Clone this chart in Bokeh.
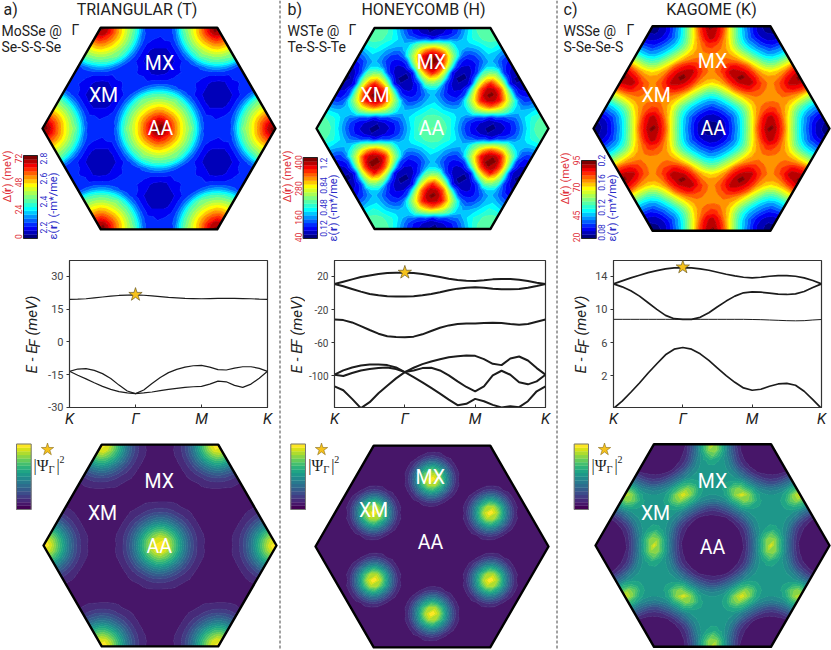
#!/usr/bin/env python3

import numpy as np
from bokeh.core.properties import value
from bokeh.embed import file_html
from bokeh.layouts import column, row
from bokeh.models import FixedTicker, Range1d, Span
from bokeh.palettes import Viridis256
from bokeh.plotting import figure
from bokeh.resources import INLINE

# Maps: values in percent of the colour bar, read off one irreducible wedge of
# the moire cell (AA - XM - MX triangle, 18 steps per lattice vector), row by row.
T_DELTA = [
    100,
    94, 85,
    85, 81, 74, 65,
    74, 69, 63, 54, 44,
    65, 63, 58, 51, 43, 29, 17,
    54, 51, 49, 39, 26, 17, 12, 7,
    44, 43, 39, 31, 21, 16, 12, 8, 6, 5,
    29, 26, 21, 17, 16, 15, 12, 8,
    17, 17, 16, 16, 16, 16, 13,
    12, 12, 15, 16, 16,
    7, 8, 12, 13,
    6, 8,
    5,
]
T_PSI = [
    100,
    93, 80,
    80, 74, 62, 45,
    62, 54, 42, 29, 17,
    45, 42, 34, 25, 16, 9, 5,
    29, 25, 19, 13, 8, 5, 4, 3,
    17, 16, 13, 9, 7, 5, 4, 3, 3, 3,
    9, 8, 7, 5, 4, 3, 3, 3,
    5, 5, 5, 4, 3, 3, 3,
    3, 3, 3, 3, 3,
    3, 3, 3, 3,
    3, 3,
    3,
]
H_DELTA = [
    48,
    46, 45,
    45, 44, 40, 37,
    40, 36, 33, 31, 30,
    37, 33, 27, 24, 24, 33, 48,
    31, 24, 18, 16, 22, 45, 64, 85,
    30, 24, 16, 13, 12, 18, 50, 73, 92, 98,
    33, 22, 12, 8, 9, 20, 53, 80,
    48, 45, 18, 9, 5, 5, 13,
    64, 50, 20, 5, 3,
    86, 74, 53, 13,
    94, 80,
    100,
]
H_PSI = [
    3,
    3, 3,
    3, 3, 3, 3,
    3, 3, 3, 3, 3,
    3, 3, 3, 3, 3, 4, 14,
    3, 3, 3, 3, 3, 12, 34, 62,
    3, 3, 3, 3, 3, 6, 24, 52, 85, 100,
    4, 3, 3, 3, 3, 12, 34, 62,
    14, 12, 6, 3, 3, 4, 14,
    34, 24, 12, 4, 3,
    62, 52, 34, 14,
    85, 62,
    100,
]
K_DELTA = [
    3,
    4, 6,
    6, 8, 12, 19,
    12, 16, 23, 29, 40,
    19, 23, 27, 34, 43, 53, 65,
    29, 34, 42, 51, 59, 68, 73, 74,
    40, 43, 51, 58, 67, 74, 77, 78, 75, 74,
    53, 59, 67, 78, 84, 87, 85, 80,
    65, 68, 74, 84, 90, 92, 93,
    73, 77, 87, 92, 99,
    74, 78, 85, 93,
    75, 80,
    74,
]
K_PSI = [
    2,
    3, 3,
    3, 3, 3, 3,
    3, 3, 3, 3, 9,
    3, 3, 3, 4, 11, 21, 38,
    3, 4, 7, 16, 27, 40, 47, 49,
    9, 11, 16, 25, 34, 44, 50, 51, 50, 50,
    21, 27, 34, 45, 58, 60, 55, 52,
    38, 40, 44, 58, 68, 80, 72,
    47, 50, 60, 80, 92,
    49, 51, 55, 72,
    50, 52,
    50,
]

# Band structures, sampled every 1/8 of a K-Gamma-M-K segment
K_PATH = [i / 8 for i in range(25)]
T_BANDS = [
    [19.4, 19.5, 19.7, 20.1, 20.5, 20.9, 21.2, 21.4, 21.5, 21.3, 21.0, 20.7, 20.3,
     20.1, 19.9, 19.8, 19.7, 19.8, 19.9, 19.9, 19.9, 19.8, 19.7, 19.5, 19.4],
    [-13.5, -12.45, -12.3, -13.05, -14.55, -16.8, -19.8, -22.5, -23.7, -22.05, -19.05,
     -16.35, -14.1, -12.6, -11.55, -10.95, -10.8, -11.55, -12.75, -12.9, -12.0, -11.4,
     -11.4, -12.15, -13.5],
    [-13.5, -15.3, -16.95, -18.75, -20.4, -21.75, -22.8, -23.4, -23.7, -23.4, -22.95,
     -22.35, -21.75, -21.3, -20.85, -20.55, -20.4, -19.35, -18.0, -18.3, -19.95, -20.85,
     -19.35, -16.65, -13.5],
]
H_BANDS = [
    [10.8, 13.6, 16.4, 19.2, 21.2, 22.8, 24.0, 24.4, 24.4, 24.0, 22.8, 21.2, 19.2, 17.2,
     15.6, 14.8, 14.4, 15.2, 16.4, 16.8, 16.8, 16.0, 14.4, 12.4, 10.8],
    [10.8, 8.0, 4.8, 1.6, -1.2, -2.8, -4.0, -4.4, -4.4, -4.0, -2.8, -1.2, 0.8, 3.2, 5.2,
     6.4, 6.8, 6.4, 5.2, 4.4, 4.4, 4.8, 6.4, 8.4, 10.8],
    [-32.0, -32.8, -35.6, -40.0, -44.8, -49.2, -52.4, -53.2, -53.6, -52.8, -50.0, -46.0,
     -42.0, -39.2, -37.6, -36.8, -36.8, -36.4, -36.0, -36.4, -37.6, -38.4, -37.6, -34.8,
     -32.0],
    [-112.8, -117.6, -128.0, -139.2, -132.0, -121.2, -112.0, -103.2, -95.6, -90.4, -86.0,
     -82.8, -80.0, -77.6, -76.4, -75.6, -76.0, -80.0, -85.6, -87.2, -79.2, -76.8, -81.6,
     -90.8, -98.8],
    [-98.8, -93.6, -90.0, -87.6, -86.4, -86.4, -87.2, -90.0, -95.6, -101.6, -108.0, -114.8,
     -121.6, -128.8, -135.6, -134.0, -128.0, -130.8, -135.2, -138.4, -136.8, -138.0,
     -130.8, -118.8, -112.8],
    [-98.8, -100.4, -96.8, -93.6, -92.0, -90.8, -90.0, -92.0, -95.6, -93.6, -90.8, -90.4,
     -93.6, -99.6, -106.8, -113.6, -118.8, -112.8, -99.6, -94.0, -98.8, -108.0, -110.4,
     -106.8, -98.8],
]
K_BANDS = [
    [13.08, 13.44, 13.8, 14.12, 14.44, 14.68, 14.88, 15.0, 15.04, 15.0, 14.88, 14.72, 14.48,
     14.24, 14.04, 13.88, 13.8, 13.88, 14.0, 14.08, 14.08, 14.0, 13.8, 13.48, 13.08],
    [13.08, 12.72, 12.24, 11.6, 10.8, 10.0, 9.28, 8.88, 8.8, 8.8, 9.04, 9.6, 10.32, 11.0,
     11.6, 12.0, 12.12, 12.08, 11.96, 11.84, 11.8, 11.88, 12.16, 12.64, 13.08],
    [8.8, 8.8, 8.8, 8.8, 8.8, 8.8, 8.8, 8.8, 8.8, 8.8, 8.8, 8.8, 8.8, 8.8, 8.8, 8.8, 8.78,
     8.76, 8.72, 8.68, 8.64, 8.62, 8.64, 8.72, 8.78],
    [-1.96, -1.08, 0.0, 1.12, 2.32, 3.44, 4.52, 5.2, 5.4, 5.2, 4.64, 3.84, 2.92, 2.0, 1.2,
     0.52, 0.24, 0.36, 0.72, 1.0, 1.08, 0.84, 0.12, -0.88, -1.96],
]

K_TICKS = [0, 1, 2, 3]
K_LABELS = ["K", "Γ", "M", "K"]
T_TICKS, T_TICK_LABELS = [-30, -15, 0, 15, 30], ["-30", "-15", "0", "15", "30"]
H_TICKS, H_TICK_LABELS = [-100, -60, -20, 20], ["-100", "-60", "-20", "20"]
K_YTICKS, K_YTICK_LABELS = [2, 6, 10, 14], ["2", "6", "10", "14"]

T_DELTA_BAR = ["0", "24", "48", "72"]
T_EPS_BAR = ["2.2", "2.4", "2.6", "2.8"]
H_DELTA_BAR = ["40", "160", "280", "400"]
H_EPS_BAR = ["0.12", "0.48", "0.84", "1.2"]
K_DELTA_BAR = ["20", "45", "70", "95"]
K_EPS_BAR = ["0.08", "0.12", "0.16", "0.2"]

N = 18
COLS = [(0, 278), (281, 274), (558, 273)]
TOP_H, MID_H = 244, 186
FONT = "Roboto"


def jet(n):
    stops = [0, 0.11, 0.35, 0.5, 0.65, 0.89, 1]
    r = np.interp(np.linspace(0, 1, n), stops, [0, 0, 0, 0.5, 1, 1, 0.5])
    g = np.interp(np.linspace(0, 1, n), stops, [0, 0, 1, 1, 1, 0, 0])
    b = np.interp(np.linspace(0, 1, n), stops, [0.5, 1, 1, 0.5, 0, 0, 0])
    return ["#%02x%02x%02x" % (int(a * 255), int(c * 255), int(d * 255)) for a, c, d in zip(r, g, b)]


JET = jet(21)
VIR = [Viridis256[int(round(i * 255 / 17))] for i in range(18)]


def unfold(values):
    wedge = [
        (i, j)
        for j in range(13)
        for i in range(-6, 7)
        if i <= j and 2 * i + j >= 0 and i + 2 * j <= N
    ]
    table = {}
    for (i, j), v in zip(wedge, values):
        a, b = i, j
        for _ in range(3):
            table[(a % N, b % N)] = v
            table[((-a - b) % N, b % N)] = v
            a, b = -a - b, a
    return table


def put(p, x, y, text, size, color="#222222", angle=0, align="left", font=FONT, style="normal"):
    p.text(
        x=[x], y=[y], text=[text], angle=angle,
        text_font=value(font), text_font_size=f"{size}px", text_font_style=style,
        text_color=color, text_align=align, text_baseline="middle",
    )


def sheet(x0, y0, w, h):
    p = figure(
        width=w, height=h, x_range=Range1d(x0, x0 + w), y_range=Range1d(y0 + h, y0),
        toolbar_location=None, output_backend="svg", x_axis_type=None, y_axis_type=None,
        min_border=0, outline_line_color=None,
    )
    p.grid.visible = False
    return p


def hexmap(p, values, cx, cy, r, palette):
    table = unfold(values)
    ii, jj = np.meshgrid(np.arange(-N - 2, N + 3), np.arange(-N - 2, N + 3))
    z = np.vectorize(lambda a, b: table[(a % N, b % N)])(ii, jj).astype(float)
    z[ii ** 2 + ii * jj + jj ** 2 > (1.2 * N) ** 2] = np.nan
    x = cx + (ii + jj / 2) * r / N
    y = cy - jj * np.sqrt(3) / 2 * r / N
    levels = np.linspace(0, 100.01, len(palette) + 1)
    p.contour(x, y, z, levels, fill_color=palette, line_color=palette + [palette[-1]], line_width=1)

    ang = np.radians(np.arange(0, 360, 60))
    hx = list(cx + r * np.cos(ang))
    hy = list(cy + r * np.sin(ang))
    x0, x1, y1, y0 = p.x_range.start, p.x_range.end, p.y_range.start, p.y_range.end
    p.multi_polygons(
        xs=[[[[x0 - 1, x1 + 1, x1 + 1, x0 - 1], hx]]],
        ys=[[[[y0 - 1, y0 - 1, y1 + 1, y1 + 1], hy]]],
        fill_color="white", line_color=None,
    )
    p.patch(hx, hy, fill_color=None, line_color="black", line_width=2.4, line_join="round")


def site_labels(p, mx, xm, aa):
    for text, (x, y) in zip(["MX", "XM", "AA"], [mx, xm, aa]):
        put(p, x, y, text, 19.5, color="white", align="center")


def bar(p, left, right, top, bottom, palette, edge="#333333"):
    ys = np.linspace(bottom, top, len(palette) + 1)
    p.quad(left=left, right=right, top=ys[1:], bottom=ys[:-1], fill_color=palette, line_color=palette, line_width=0.3)
    p.quad(left=[left], right=[right], top=[top], bottom=[bottom], fill_color=None, line_color=edge, line_width=1)


def psi_label(p, x, star_x):
    p.scatter([star_x], [449], marker="star", size=13, fill_color="#f6c21c", line_color="#8a6d1a", line_width=0.6)
    put(p, x, 465, "|Ψ", 16, font="Liberation Serif")
    put(p, x + 15, 469, "Γ", 10.5, font="Liberation Serif")
    put(p, x + 23, 465, "|", 16, font="Liberation Serif")
    put(p, x + 26, 459, "2", 10, font="Liberation Serif")


def bar_title(p, x, y, sym, tail, color):
    size = 11
    up = np.pi / 2
    put(p, x, y, sym + "(", size, color=color, angle=up)
    put(p, x, y - 10.6, "r", size, color=color, angle=up, style="bold")
    put(p, x, y - 15.2, ")", size, color=color, angle=up)
    put(p, x, y - 22, tail, size, color=color, angle=up)


def top_panel(col, letter, title, title_x, lab1, lab2, lab_x, gamma_x, values, hx, labels, barpos, dticks, eticks, ypos):
    x0, w = COLS[col]
    p = sheet(x0, 0, w, TOP_H)
    hexmap(p, values, hx[0], 128, hx[1], JET)
    site_labels(p, *labels)
    put(p, lab_x if col else 3, 9, letter, 16)
    put(p, title_x, 9, title, 16, align="center")
    put(p, lab_x if col else 1, 30, lab1, 14)
    put(p, gamma_x, 29, "Γ", 14)
    put(p, lab_x if col else 1, 46, lab2, 14)
    left, right, top = barpos
    bar(p, left, right, top, 238, JET, edge="#222222")
    red, blue = "#e0303a", "#2b2bc8"
    for t, y in zip(dticks, ypos[0]):
        put(p, left - 5, y, t, 8.5, color=red, angle=np.pi / 2, align="center")
    for t, y in zip(eticks, ypos[1]):
        put(p, right + 5.5, y, t, 8.5, color=blue, angle=np.pi / 2, align="center")
    bar_title(p, left - 16, ypos[2], "Δ", "(meV)", red)
    bar_title(p, right + 16, ypos[3], "ε", "(-m*/me)", blue)
    return p


def band_panel(col, frame, yrange, bands, ticks, tick_labels, star_y, line_width, label_x, gutter, f_dx, tick_size=11):
    x0, w = COLS[col]
    left, right = frame

    # the rotated axis title sits in a narrow sheet of its own, left of the tick labels
    side = sheet(x0, TOP_H, gutter, MID_H)
    up = np.pi / 2
    for text, dx, y in [("E - E", 0, 373), ("F", f_dx, 347), ("(meV)", 0, 335)]:
        put(side, label_x + dx, y, text, 15, angle=up, style="italic")

    p = figure(
        width=w - gutter, height=MID_H, x_range=Range1d(0, 3), y_range=Range1d(*yrange),
        toolbar_location=None, output_backend="svg", min_border=0,
        min_border_left=left - x0 - gutter, min_border_right=x0 + w - right,
        min_border_top=260 - TOP_H, min_border_bottom=22,
        outline_line_color="#333333", outline_line_width=1.2,
    )
    p.grid.visible = False
    for k, band in enumerate(bands):
        lw = line_width[k] if isinstance(line_width, list) else line_width
        p.line(K_PATH, band, line_color="#1c1c1c", line_width=lw)
    p.scatter([1], [star_y], marker="star", size=14, fill_color="#f6c21c", line_color="#6b5a20", line_width=0.7)

    p.xaxis.ticker = FixedTicker(ticks=K_TICKS)
    p.xaxis.major_label_overrides = dict(zip(K_TICKS, K_LABELS))
    p.xaxis.major_label_text_font = FONT
    p.xaxis.major_label_text_font_style = "italic"
    p.xaxis.major_label_text_font_size = "15px"
    p.xaxis.major_label_text_color = "#222222"
    p.xaxis.major_label_standoff = 2
    p.xaxis.major_tick_in = 3
    p.xaxis.major_tick_out = 0
    p.yaxis.ticker = FixedTicker(ticks=ticks)
    p.yaxis.major_label_overrides = dict(zip(ticks, tick_labels))
    p.yaxis.major_label_text_font = FONT
    p.yaxis.major_label_text_font_size = f"{tick_size}px"
    p.yaxis.major_label_text_color = "#444444"
    p.yaxis.major_label_standoff = 3
    p.yaxis.major_tick_in = 0
    p.yaxis.major_tick_out = 3
    for ax in (p.xaxis, p.yaxis):
        ax.minor_tick_line_color = None
        ax.axis_line_color = "#333333"
        ax.major_tick_line_color = "#333333"
    return row(row(side), row(p), spacing=0)


def bottom_panel(col, values, hx, cy, labels, barpos, text_x, star_x):
    x0, w = COLS[col]
    p = sheet(x0, 430, w, 220)
    hexmap(p, values, hx[0], cy, hx[1], VIR[1:])
    site_labels(p, *labels)
    bar(p, barpos[0], barpos[1], 443.5, 509, VIR, edge="#777777")
    psi_label(p, text_x, star_x)
    return p


def separator():
    p = figure(
        width=3, height=650, x_range=Range1d(0, 1), y_range=Range1d(0, 1),
        toolbar_location=None, output_backend="svg", x_axis_type=None, y_axis_type=None,
        min_border=0, outline_line_color=None,
    )
    p.grid.visible = False
    p.add_layout(Span(location=0.5, dimension="height", line_color="#444444", line_width=1, line_dash="3 2"))
    return p


# wrapped one by one so that the column does not line the plot frames up
def stack(top, mid, bottom):
    return column(row(top), row(mid), row(bottom), spacing=0)


col_a = stack(
    top_panel(
        0, "a)", "TRIANGULAR (T)", 136.5, "MoSSe @", "Se-S-S-Se", 1, 71, T_DELTA, (158.5, 116.5),
        ((159, 63), (103, 95), (160, 128)), (23, 37, 155), T_DELTA_BAR, T_EPS_BAR,
        ((236, 209, 182, 158), (227, 201, 178, 158), 202, 239),
    ),
    band_panel(0, (69, 267), (-30.05, 37.2), T_BANDS, T_TICKS, T_TICK_LABELS, 21.6, 1.2, 31, 42, 3),
    bottom_panel(0, T_PSI, (159.5, 116.5), 545, ((158.7, 481), (102, 513), (158.7, 546)), (16, 30.7), 33, 47),
)
col_b = stack(
    top_panel(
        1, "b)", "HONEYCOMB (H)", 423, "WSTe @", "Te-S-S-Te", 287, 348, H_DELTA, (432, 116),
        ((431, 62), (374.7, 95), (431, 128)), (302.7, 317, 157), H_DELTA_BAR, H_EPS_BAR,
        ((237, 217, 188, 162), (228, 207, 185, 163), 202, 241),
    ),
    band_panel(1, (334, 545), (-138.4, 39.2), H_BANDS, H_TICKS, H_TICK_LABELS, 24.8, 2, 296, 24, 0.5, tick_size=10),
    bottom_panel(1, H_PSI, (431.5, 116.5), 546, ((429.7, 477), (373, 510), (430, 542)), (290.3, 305), 307.7, 321),
)
col_c = stack(
    top_panel(
        2, "c)", "KAGOME (K)", 711, "WSSe @", "S-Se-Se-S", 563, 626, K_DELTA, (711, 118),
        ((712, 61), (655.7, 95), (712.7, 128)), (581, 595.7, 160), K_DELTA_BAR, K_EPS_BAR,
        ((237, 215, 187, 160), (232, 207, 182, 160), 204, 241),
    ),
    band_panel(2, (612, 821), (-1.84, 15.9), K_BANDS, K_YTICKS, K_YTICK_LABELS, 15.1, [1.7, 1.7, 1, 1.7], 580, 34, 3),
    bottom_panel(2, K_PSI, (712, 117), 545, ((712, 481), (655, 513), (712, 547)), (573.7, 588), 591, 604),
)

page = row(col_a, separator(), col_b, separator(), col_c, spacing=0)

open("out.html", "w").write(file_html(page, INLINE))
